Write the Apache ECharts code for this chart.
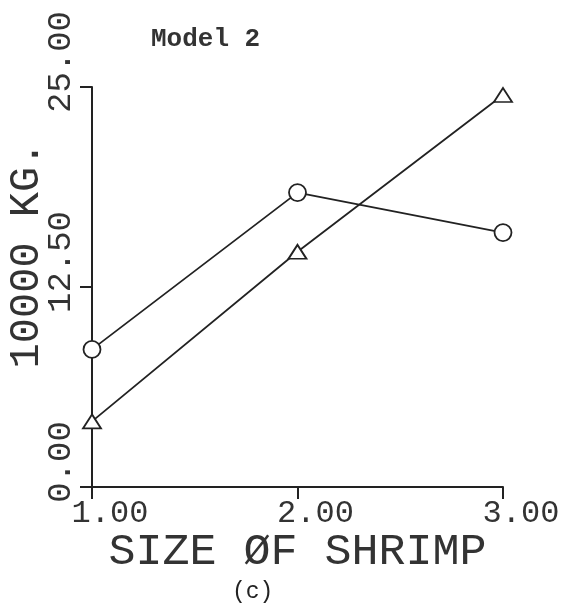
<!DOCTYPE html>
<html><head><meta charset="utf-8">
<script src="https://cdn.jsdelivr.net/npm/echarts@6/dist/echarts.min.js"></script>
<style>html,body{margin:0;background:#fff}#c{width:566px;height:612px}</style>
</head><body><div id="c"></div>
<script>
const sizes = [1, 2, 3];
const circleValues = [8.6, 18.4, 15.9];
const triangleValues = [4.1, 14.7, 24.5];
const titleText = 'Model 2';
const xName = 'SIZE ØF SHRIMP';
const yName = '10000 KG.';
const captionText = '(c)';

const ink = '#222';
const mono = 'Liberation Mono';
const chart = echarts.init(document.getElementById('c'));
function pairs(vals) { return sizes.map((s, i) => [s, vals[i]]); }
const lineSeries = (data, symbol, size) => ({
  type: 'line', data: data, symbol: symbol, symbolSize: size,
  lineStyle: { color: ink, width: 1.8 },
  itemStyle: { color: '#fff', borderColor: ink, borderWidth: 1.8 },
  animation: false, z: 3
});
chart.setOption({
  backgroundColor: '#fff',
  animation: false,
  title: { text: titleText, left: 146, top: 21,
    textStyle: { fontFamily: mono, fontSize: 26, fontWeight: 'bold', color: '#333' } },
  grid: { left: 92, right: 63, top: 87, bottom: 125, containLabel: false, outerBoundsMode: 'none' },
  xAxis: {
    type: 'value', min: 1, max: 3, interval: 1,
    name: xName, nameLocation: 'middle', nameGap: 43, nameMoveOverlap: false,
    nameTextStyle: { fontFamily: mono, fontSize: 45, color: '#333' },
    axisLine: { lineStyle: { color: ink, width: 2 } },
    axisTick: { length: 12, lineStyle: { color: ink, width: 2 } },
    axisLabel: { fontFamily: mono, fontSize: 32, color: '#333', margin: 11,
      padding: [0, 0, 0, 36], formatter: v => v.toFixed(2) },
    splitLine: { show: false }
  },
  yAxis: {
    type: 'value', min: 0, max: 25, interval: 12.5,
    name: yName, nameLocation: 'middle', nameGap: 44, nameRotate: 90, nameMoveOverlap: false,
    nameTextStyle: { fontFamily: mono, fontSize: 42, color: '#333', padding: [0, 0, 0, 64] },
    axisLine: { lineStyle: { color: ink, width: 2 } },
    axisTick: { length: 12, lineStyle: { color: ink, width: 2 } },
    axisLabel: { fontFamily: mono, fontSize: 34, color: '#333', rotate: 90, margin: 14,
      padding: [0, 0, 0, 50], formatter: v => v.toFixed(2) },
    splitLine: { show: false }
  },
  graphic: [{ type: 'text', left: 232, top: 580,
    style: { text: captionText, font: '23px "Liberation Mono"', fill: ink } }],
  series: [
    lineSeries(pairs(circleValues), 'circle', 17),
    lineSeries(pairs(triangleValues), 'triangle', [18, 14])
  ]
});
</script></body></html>
